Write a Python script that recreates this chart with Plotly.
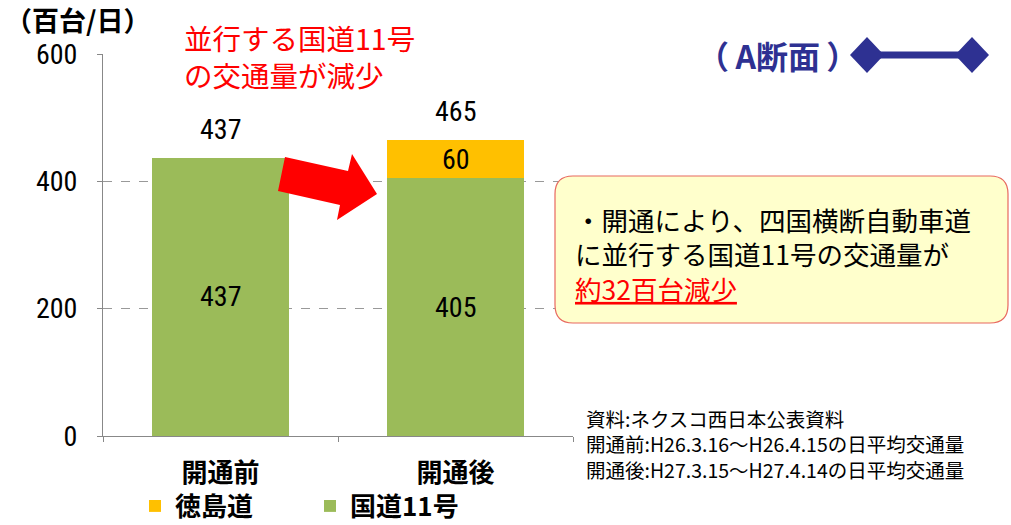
import plotly.graph_objects as go

categories = ["開通前", "開通後"]
route11 = [437, 405]
tokushima = [0, 60]
series_names = ["国道11号", "徳島道"]
colors = ["#9BBB59", "#FFC000"]
y_ticks = [0, 200, 400, 600]
source_lines = ["資料:ネクスコ西日本公表資料",
                "開通前:H26.3.16～H26.4.15の日平均交通量",
                "開通後:H27.3.15～H27.4.14の日平均交通量"]

W, H = 1011, 525
L, R, T, B = 103, 573, 54, 436  # plot area in pixels


def px(x):
    return (x - L) / (R - L)


def py(y):
    return (B - y) / (B - T)


NUM_FONT = ("Liberation Sans Narrow, Arial Narrow, Roboto Condensed, Noto Sans Condensed, "
            "DejaVu Sans Condensed, Liberation Sans, sans-serif")
JP_FONT = "Noto Sans CJK JP, sans-serif"

fig = go.Figure()
fig.add_trace(go.Bar(x=categories, y=route11, name=series_names[0],
                     marker=dict(color=colors[0], line=dict(width=0)),
                     width=0.58, legendrank=2))
fig.add_trace(go.Bar(x=categories, y=tokushima, name=series_names[1],
                     marker=dict(color=colors[1], line=dict(width=0)),
                     width=0.58, legendrank=1))

annotations = []
for i, c in enumerate(categories):
    base = 0
    for vals in (route11, tokushima):
        v = vals[i]
        if v:
            annotations.append(dict(x=c, y=base + v / 2, xref="x", yref="y", text=str(v),
                                    showarrow=False, font=dict(family=NUM_FONT, size=28, color="black")))
        base += v
    annotations.append(dict(x=c, y=base, xref="x", yref="y", text=str(base), yshift=28,
                            showarrow=False, font=dict(family=NUM_FONT, size=28, color="black")))

annotations.append(dict(x=px(3), y=py(19), xref="paper", yref="paper", xanchor="left", yanchor="middle",
                        text="（百台/日）", showarrow=False,
                        font=dict(family=JP_FONT, size=27, color="black", weight="bold")))
annotations.append(dict(x=px(182), y=py(56), xref="paper", yref="paper", xanchor="left", yanchor="middle",
                        align="left", text="並行する国道11号<br>の交通量が減少", showarrow=False,
                        font=dict(family=JP_FONT, size=28.5, color="#FF0000")))
annotations.append(dict(x=px(777), y=py(55), xref="paper", yref="paper", xanchor="center", yanchor="middle",
                        text="（\u2009A断面\u2009）", showarrow=False,
                        font=dict(family=JP_FONT, size=32, color="#2E3192", weight="bold")))
annotations.append(dict(x=px(573), y=py(254), xref="paper", yref="paper", xanchor="left", yanchor="middle",
                        align="left",
                        text="・開通により、四国横断自動車道<br>に並行する国道11号の交通量が<br>"
                             "<span style='color:#FF0000'><u>約32百台減少</u></span>",
                        showarrow=False, font=dict(family=JP_FONT, size=26.5, color="black")))
annotations.append(dict(x=px(584), y=py(444), xref="paper", yref="paper",
                        xanchor="left", yanchor="middle", align="left",
                        text="<br>".join(source_lines), showarrow=False,
                        font=dict(family=JP_FONT, size=19.5, color="black")))

shapes = []
arrow_pts = [(285, 157), (348, 171), (352, 154), (377, 194), (337, 220), (340, 205), (278, 191)]
path = "M " + " L ".join(f"{px(x):.5f},{py(y):.5f}" for x, y in arrow_pts) + " Z"
shapes.append(dict(type="path", xref="paper", yref="paper", path=path,
                   fillcolor="#FF0000", line=dict(width=0), layer="above"))

x0, x1, y0, y1, r = 555, 1008, 176, 323, 18
pts = (f"M {px(x0 + r)},{py(y0)} L {px(x1 - r)},{py(y0)} Q {px(x1)},{py(y0)} {px(x1)},{py(y0 + r)} "
       f"L {px(x1)},{py(y1 - r)} Q {px(x1)},{py(y1)} {px(x1 - r)},{py(y1)} "
       f"L {px(x0 + r)},{py(y1)} Q {px(x0)},{py(y1)} {px(x0)},{py(y1 - r)} "
       f"L {px(x0)},{py(y0 + r)} Q {px(x0)},{py(y0)} {px(x0 + r)},{py(y0)} Z")
shapes.append(dict(type="path", xref="paper", yref="paper", path=pts,
                   fillcolor="#FFFFCC", line=dict(color="#E8685F", width=1.2), layer="above"))

navy = "#2E3192"
shapes.append(dict(type="line", xref="paper", yref="paper", x0=px(867), x1=px(972), y0=py(55), y1=py(55),
                   line=dict(color=navy, width=7), layer="above"))
for cx in (867, 972):
    dx, dy = 17, 18
    dpath = (f"M {px(cx - dx)},{py(55)} L {px(cx)},{py(55 - dy)} L {px(cx + dx)},{py(55)} "
             f"L {px(cx)},{py(55 + dy)} Z")
    shapes.append(dict(type="path", xref="paper", yref="paper", path=dpath,
                       fillcolor=navy, line=dict(width=0), layer="above"))

fig.update_layout(
    width=W, height=H,
    margin=dict(l=L, r=W - R, t=T, b=H - B, autoexpand=False),
    paper_bgcolor="white", plot_bgcolor="white",
    barmode="stack",
    showlegend=True,
    legend=dict(orientation="h", x=px(135), xanchor="left", y=py(506), yanchor="middle",
                traceorder="normal",
                font=dict(family=JP_FONT, size=26, color="black", weight="bold"),
                entrywidth=130, entrywidthmode="pixels", bgcolor="rgba(0,0,0,0)"),
    xaxis=dict(range=[-0.5, 1.5], showline=True, linecolor="#888888", linewidth=1,
               ticks="outside", ticklen=5, tickcolor="#888888", tickson="boundaries",
               tickfont=dict(family=JP_FONT, size=26, color="black", weight="bold"),
               ticklabelstandoff=14, showgrid=False, fixedrange=True, automargin=False),
    yaxis=dict(range=[0, 600], tickvals=y_ticks, showline=True, linecolor="#888888", linewidth=1,
               ticks="outside", ticklen=5, tickcolor="#888888", ticklabelstandoff=14,
               tickfont=dict(family=NUM_FONT, size=28, color="black"),
               showgrid=True, gridcolor="#999999", griddash="dash", gridwidth=1,
               zeroline=False, fixedrange=True, automargin=False),
    annotations=annotations,
    shapes=shapes,
)

fig.write_html("out.html", config={"displayModeBar": False},
               post_script="document.body.style.margin='0px';")
